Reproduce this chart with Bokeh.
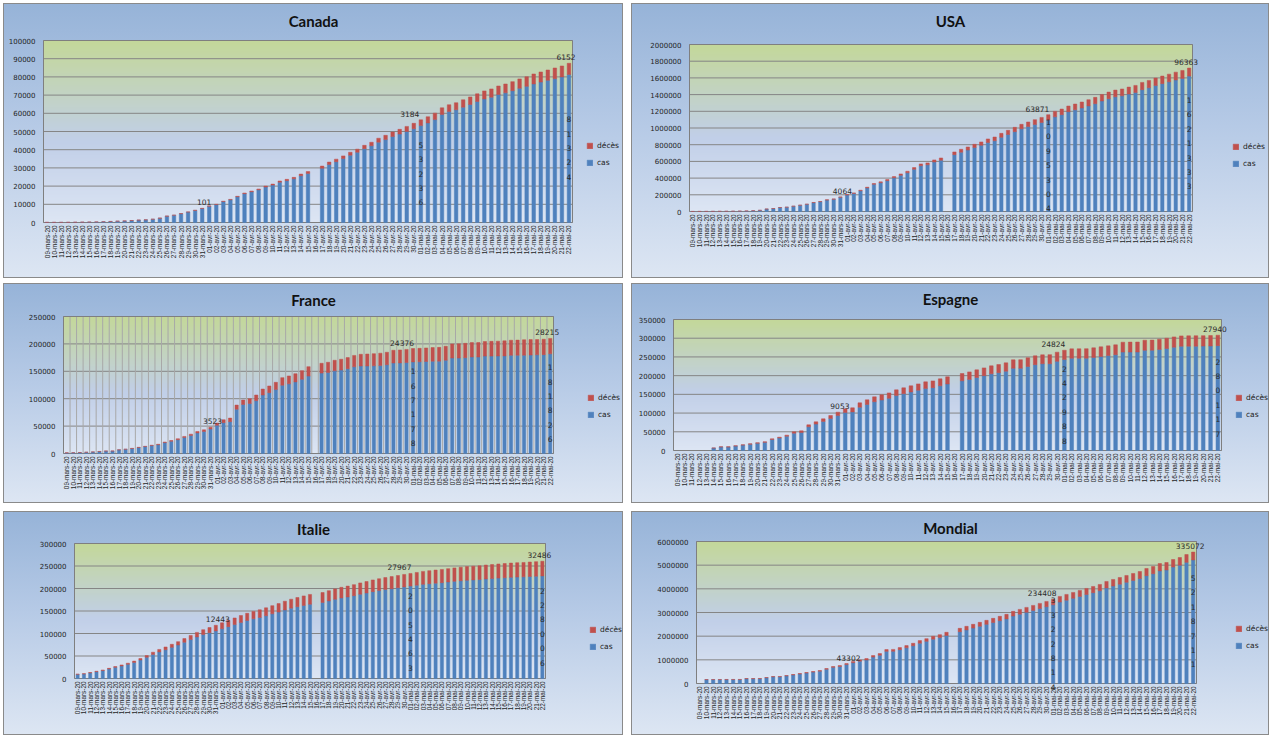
import math
import numpy as np
from bokeh.plotting import figure
from bokeh.models import (ColumnDataSource, Range1d, Legend, LegendItem, LabelSet, Label)
from bokeh.layouts import row, column
from bokeh.embed import file_html
from bokeh.resources import INLINE
from bokeh.core.properties import value

# ---------------- data ----------------
dates = ([f"{d:02d}-mars-20" for d in range(9, 32)] +
         [f"{d:02d}-avr-20" for d in range(1, 31)] +
         [f"{d:02d}-mai-20" for d in range(1, 23)])

canada_cas = [77, 79, 93, 103, 138, 193, 244, 313, 415, 569, 735, 873, 1087, 1328, 1470, 1800, 2400, 3500, 4000, 4850, 5750, 6650, 7700,
              8990, 9860, 11520, 12480, 14140, 15860, 16920, 17990, 19500, 20540, 22150, 22990, 24020, 25700, 26990,
              None,
              29800, 31890, 33400, 35130, 37010, 38610, 40590, 42180, 44160, 45550, 47230, 48580, 50030, 51500, 53236,
              54710, 56530, 59320, 60930, 61950, 63360, 64830, 66470, 67890, 68830, 70310, 71230, 72410, 73730, 74800, 76130, 77140, 78120, 79040, 79970, 81324]
canada_deces = [0, 0, 1, 1, 1, 1, 1, 1, 1, 5, 8, 9, 12, 13, 19, 24, 25, 30, 39, 54, 61, 64, 101,
                111, 136, 179, 218, 259, 339, 375, 407, 503, 557, 654, 714, 779, 899, 1010,
                None,
                1195, 1310, 1400, 1470, 1587, 1690, 1810, 1915, 2141, 2350, 2465, 2617, 2766, 2996, 3184,
                3391, 3566, 3682, 3766, 3854, 4043, 4167, 4232, 4408, 4569, 4691, 4871, 4993, 5169, 5300, 5472, 5562, 5679, 5857, 6028, 6152]

usa_cas = [600, 960, 1300, 1700, 2200, 2700, 3500, 4600, 6400, 9400, 14200,
           29660, 35570, 47450, 51290, 63050, 74790, 86420, 105970, 117530, 137020, 147430, 170940,
           197900, 216900, 247600, 282500, 325400, 344200, 369200, 403300, 433500, 463400, 505500, 548000, 558400, 592200, 612700,
           None,
           681000, 710400, 736000, 766100, 792300, 826500, 847000, 888600, 922200, 956100, 990500, 1017000, 1042500, 1066500, 1095304,
           1133300, 1159600, 1194400, 1217100, 1239100, 1264700, 1290500, 1323600, 1350400, 1373300, 1385000, 1405900, 1424100, 1458500, 1481300, 1508400, 1531300, 1552700, 1575200, 1593900, 1621333]
usa_deces = [22, 31, 38, 41, 48, 57, 68, 107, 150, 205, 260, 340, 426, 554, 706, 946, 1209, 1581, 2026, 2467, 2978, 3573, 4064,
             5100, 6100, 7400, 8500, 9600, 10800, 12800, 14700, 16500, 18600, 20500, 22000, 23600, 25800, 28300,
             None,
             32000, 34600, 37000, 38900, 40700, 42500, 45000, 47400, 49800, 51900, 53500, 55000, 57500, 60500, 63871,
             65700, 67400, 68600, 69900, 71900, 74300, 76500, 78400, 79600, 80700, 82300, 84100, 85900, 87500, 88700, 89600, 90700, 92300, 93800, 95100, 96363]

france_cas = [1126, 1412, 1784, 2281, 2876, 3661, 4469, 4499, 6633, 7652, 9043, 10871, 12612, 14459, 16018, 19856, 22304, 25233, 29155, 32964, 37575, 40174, 44550,
              51500, 56200, 58100, 80800, 89500, 91100, 96400, 106800, 111000, 116700, 124600, 127100, 130700, 135500, 141300,
              None,
              146700, 147800, 150800, 152300, 154700, 158200, 159700, 159700, 159900, 160400, 161900, 165100, 165300, 165900, 167178,
              167300, 167900, 168400, 168500, 170200, 174200, 174200, 174800, 176100, 176100, 177700, 177700, 177900, 178100, 179200, 179300, 179400, 179600, 180000, 180400, 181826]
france_deces = [25, 33, 48, 61, 79, 91, 127, 148, 175, 264, 372, 450, 562, 674, 860, 1100, 1331, 1696, 1995, 2314, 2606, 3024, 3523,
                4032, 5387, 6507, 7560, 8078, 8911, 10328, 10869, 12210, 13197, 13832, 14393, 14967, 15729, 17167,
                None,
                17920, 18681, 19323, 19718, 20265, 20796, 21340, 21856, 22245, 22614, 22856, 23293, 23660, 24087, 24376,
                24594, 24760, 24895, 25201, 25531, 25809, 25987, 26230, 26310, 26380, 26643, 26991, 27074, 27425, 27529, 27625, 28108, 28239, 28022, 28132, 28215]

espagne_cas = [None, None, None, None, None,
               6600, 9500, 9500, 11970, 14480, 16970, 19460, 21830, 29430, 33290, 38190, 46250, 48100, 63460, 70620, 77800, 85780, 93350,
               101300, 103100, 115600, 123000, 130300, 134900, 139400, 146800, 151600, 156400, 161000, 165900, 167900, 172900, 177700,
               None,
               186200, 190000, 195000, 199900, 204900, 208000, 212000, 219700, 219700, 224400, 229400, 231800, 231800, 238200, 242988,
               246500, 246500, 246600, 248700, 251100, 253500, 256000, 262900, 263000, 263100, 267800, 267900, 270100, 272500, 276000, 278600, 278700, 278800, 278900, 279200, 280117]
espagne_deces = [None, None, None, None, None,
                 196, 289, 342, 533, 623, 830, 1043, 1375, 1772, 2311, 2808, 3647, 4365, 5138, 5982, 6803, 7716, 9053,
                 10003, 10935, 11744, 12418, 13055, 13798, 14555, 15238, 15843, 16353, 16972, 17489, 18056, 18579, 19130,
                 None,
                 19478, 20043, 20453, 20852, 21282, 21717, 22157, 22524, 22902, 23190, 23521, 23822, 24275, 24543, 24824,
                 25100, 25264, 25428, 25613, 25857, 26070, 26299, 26478, 26621, 26744, 26920, 27104, 27321, 27459, 27563, 27650, 27709, 27778, 27888, 27904, 27940]

italie_cas = [9172, 10149, 12462, 15113, 17660, 21157, 24747, 27980, 31506, 35713, 41035, 47021, 53578, 59138, 63927, 69176, 74386, 80539, 86498, 92472, 97689, 101739, 105792,
              110574, 115242, 119827, 124632, 128948, 132547, 135586, 139422, 143626, 147577, 152271, 156363, 159516, 162488, 165155,
              None,
              168941, 172434, 175925, 178972, 181228, 183957, 187327, 189973, 192994, 195351, 197675, 199414, 201505, 203591, 205463,
              207428, 209328, 210717, 211938, 213013, 214457, 215858, 217185, 218268, 219070, 219814, 221216, 222104, 223096, 223885, 224760, 225435, 225886, 226699, 227364, 228006]
italie_deces = [463, 631, 827, 1016, 1266, 1441, 1809, 2158, 2503, 2978, 3405, 4032, 4825, 5476, 6077, 6820, 7503, 8165, 9134, 10023, 10779, 11591, 12443,
                13155, 13915, 14681, 15362, 15887, 16523, 17127, 17669, 18279, 18849, 19468, 19899, 20465, 21067, 21645,
                None,
                22170, 22745, 23227, 23660, 24114, 24648, 25085, 25549, 25969, 26384, 26644, 26977, 27359, 27682, 27967,
                28236, 28710, 28884, 29079, 29315, 29684, 29958, 30201, 30395, 30560, 30739, 30911, 31106, 31368, 31610, 31763, 31908, 32007, 32169, 32330, 32486]

mondial_cas = [None,
               164700, 165000, 165300, 165600, 166000, 166500, 202900, 203000, 203500, 243100, 283700, 284000, 322300, 362500, 402400, 441800, 482000, 520800, 601300, 682100, 719300, 799700,
               879800, 943800, 994200, 1115300, 1194600, 1358400, 1360000, 1428600, 1505300, 1596300, 1703500, 1781900, 1874400, 1938400, 2028700,
               None,
               2187000, 2263500, 2340500, 2419000, 2499000, 2576000, 2653500, 2730400, 2850800, 2929000, 3009300, 3089000, 3167300, 3244400, 3322814,
               3440300, 3519300, 3599700, 3681200, 3759800, 3837200, 3915400, 4036800, 4116500, 4197200, 4278100, 4356600, 4435600, 4557300, 4636400, 4758600, 4796800, 4919000, 4998000, 5119000, 5218711]
mondial_deces = [None,
                 4262, 4615, 4720, 5404, 5819, 6440, 7126, 7905, 8733, 9867, 11299, 12973, 14651, 16505, 18625, 21181, 23970, 27198, 30652, 33925, 38700, 43302,
                 47200, 53200, 58800, 64700, 69400, 74600, 81900, 88400, 95700, 102700, 108500, 114100, 119600, 126600, 134300,
                 None,
                 144000, 152500, 159500, 165000, 170000, 177000, 183500, 190600, 197200, 203000, 206700, 211000, 217700, 224600, 234408,
                 239700, 244700, 248300, 251800, 257200, 263800, 269600, 275200, 279500, 282800, 286900, 292400, 297400, 302700, 307600, 311400, 315200, 320000, 325000, 330000, 335072]

deces_label_dates = ["31-mars-20", "01-mai-20", "22-mai-20"]
cas_label_dates = ["01-mai-20", "22-mai-20"]

# ---------------- style ----------------
BLUE = "#4f81bd"
RED = "#c0504d"
CHART_BG = "linear-gradient(180deg, #96b3d8 0%, #b6cae6 45%, #dde6f3 100%)"
DECES_XOFF = [2, -11, -3]

# w,h: chart size; L,R,T,B: distance of the plot area from each chart edge (px)
panels = [
    dict(title="Canada", cas=canada_cas, deces=canada_deces, ymax=100000, step=10000,
         w=620, h=275, L=40, R=51, T=37, B=56, vgrid=False, leg=(14, 60), ty=17),
    dict(title="USA", cas=usa_cas, deces=usa_deces, ymax=2000000, step=200000,
         w=638, h=275, L=58, R=77, T=41, B=67, vgrid=False, leg=(40, 48), ty=17),
    dict(title="France", cas=france_cas, deces=france_deces, ymax=250000, step=50000,
         w=620, h=220, L=60, R=70, T=33, B=50, vgrid=True, leg=(34, 39), ty=16),
    dict(title="Espagne", cas=espagne_cas, deces=espagne_deces, ymax=350000, step=50000,
         w=638, h=220, L=42, R=48, T=36, B=53, vgrid=False, leg=(14, 36), ty=15),
    dict(title="Italie", cas=italie_cas, deces=italie_deces, ymax=300000, step=50000,
         w=620, h=224, L=71, R=78, T=32, B=57, vgrid=False, leg=(44, 32), ty=17),
    dict(title="Mondial", cas=mondial_cas, deces=mondial_deces, ymax=6000000, step=1000000,
         w=638, h=224, L=65, R=73, T=30, B=52, vgrid=False, leg=(39, 38), ty=16),
]


def gradient_image(n=256):
    t = np.linspace(0, 1, n)
    r = np.interp(t, [0, 0.45, 1], [221, 193, 196])
    g = np.interp(t, [0, 0.45, 1], [230, 207, 216])
    b = np.interp(t, [0, 0.45, 1], [244, 232, 154])
    img = np.zeros((n, 2), dtype=np.uint32)
    view = img.view(dtype=np.uint8).reshape((n, 2, 4))
    for k in range(2):
        view[:, k, 0] = r.astype(np.uint8)
        view[:, k, 1] = g.astype(np.uint8)
        view[:, k, 2] = b.astype(np.uint8)
        view[:, k, 3] = 255
    return img


def make_panel(cfg):
    n = len(dates)
    assert len(cfg["cas"]) == n and len(cfg["deces"]) == n, cfg["title"]
    w, h, L, R, T, B = cfg["w"], cfg["h"], cfg["L"], cfg["R"], cfg["T"], cfg["B"]
    ymax = cfg["ymax"]
    x = np.arange(n, dtype=float)
    cas = np.array([np.nan if v is None else v for v in cfg["cas"]], dtype=float)
    dec = np.array([np.nan if v is None else v for v in cfg["deces"]], dtype=float)
    mask = ~np.isnan(cas)
    src = ColumnDataSource(dict(x=x[mask], cas=cas[mask], deces=dec[mask]))

    # the frame is the whole chart; the plot area is mapped inside it
    slot = (w - L - R) / n                 # px per category
    ypp = ymax / (h - T - B)               # data units per px
    xs = -0.5 - L / slot
    xe = n - 0.5 + R / slot
    ys = -B * ypp
    ye = ymax + T * ypp

    p = figure(width=w, height=h, x_range=Range1d(xs, xe), y_range=Range1d(ys, ye),
               output_backend="svg", toolbar_location=None,
               x_axis_location=None, y_axis_location=None,
               min_border_left=0, min_border_right=0, min_border_top=0, min_border_bottom=0)
    p.border_fill_color = None
    p.background_fill_color = None
    p.outline_line_color = None
    p.styles = {"background": CHART_BG, "outline": "1px solid #8a8a8a", "outline-offset": "-1px"}
    p.grid.visible = False

    # plot area: gradient, grid lines, border
    p.image_rgba(image=[gradient_image()], x=-0.5, y=0, dw=n, dh=ymax, level="image")
    yt = list(range(0, ymax + 1, cfg["step"]))
    p.segment(x0=[-0.5] * len(yt), x1=[n - 0.5] * len(yt), y0=yt, y1=yt,
              line_color="#858585", line_width=1, level="underlay")
    if cfg["vgrid"]:
        gx = [i + 0.5 for i in range(n - 1)]
        p.segment(x0=gx, x1=gx, y0=[0] * len(gx), y1=[ymax] * len(gx),
                  line_color="#a8a8a8", line_width=1, level="underlay")
    p.quad(left=-0.5, right=n - 0.5, bottom=0, top=ymax, fill_color=None,
           line_color="#7f7f7f", line_width=1, level="underlay")

    # axis tick labels (through the scales)
    ysrc = ColumnDataSource(dict(x=[-0.5] * len(yt), y=yt, text=[str(v) for v in yt]))
    p.text(x="x", y="y", text="text", source=ysrc, x_offset=-8, text_align="right",
           text_baseline="middle", text_font=value("DejaVu Sans"), text_font_size="7px",
           text_color="#1f1f1f")
    xsrc = ColumnDataSource(dict(x=x, y=[0] * n, text=dates))
    p.text(x="x", y="y", text="text", source=xsrc, y_offset=3, angle=math.pi / 2,
           text_align="right", text_baseline="middle", text_font=value("Liberation Sans"),
           text_font_size="6.4px", text_color="#1f1f1f")

    rs = p.vbar_stack(["cas", "deces"], x="x", width=0.5, source=src,
                      fill_color=[BLUE, RED], line_color=[BLUE, RED], line_width=0.5)

    # death labels above the bars
    li = [dates.index(d) for d in deces_label_dates]
    dsrc = ColumnDataSource(dict(x=[float(i) for i in li],
                                 y=[cas[i] + dec[i] for i in li],
                                 text=[str(int(dec[i])) for i in li],
                                 xo=DECES_XOFF))
    p.add_layout(LabelSet(x="x", y="y", text="text", x_offset="xo", y_offset=3, source=dsrc,
                          text_align="center", text_baseline="bottom",
                          text_font=value("DejaVu Sans"), text_font_size="7.5px",
                          text_color="#2b2b2b"))

    # case labels, one digit per line, centred in the blue segment
    ci = [dates.index(d) for d in cas_label_dates]
    csrc = ColumnDataSource(dict(x=[float(i) for i in ci],
                                 y=[cas[i] / 2 for i in ci],
                                 text=["\n".join(str(int(cas[i]))) for i in ci]))
    p.text(x="x", y="y", text="text", source=csrc, text_align="center", text_baseline="middle",
           text_line_height=1.6,
           text_font=value("DejaVu Sans"), text_font_size="7.5px", text_color="#2b2b2b")

    # title, centred over the whole chart
    p.add_layout(Label(x=xs + (w / 2) / slot, y=ye - cfg["ty"] * ypp,
                       text=cfg["title"], text_align="center", text_baseline="middle",
                       text_font="Lato", text_font_style="bold",
                       text_font_size="15px", text_color="#111111"))

    # legend to the right of the plot area
    leg = Legend(items=[LegendItem(label="décès", renderers=[rs[1]]),
                        LegendItem(label="cas", renderers=[rs[0]])],
                 location=((w - R) + cfg["leg"][0], B + cfg["leg"][1] - 4.5))
    leg.padding = 0
    leg.margin = 0
    leg.border_line_color = None
    leg.background_fill_alpha = 0
    leg.glyph_width = 7
    leg.glyph_height = 7
    leg.label_height = 9
    leg.label_standoff = 4
    leg.spacing = 8
    leg.label_text_font = "DejaVu Sans"
    leg.label_text_font_size = "7.5px"
    leg.label_text_color = "#222222"
    p.add_layout(leg)
    return p


figs = [make_panel(c) for c in panels]
top = column(row(figs[0], figs[1], spacing=8), row(figs[2], figs[3], spacing=8), spacing=5)
layout = column(top, row(figs[4], figs[5], spacing=8), spacing=8, margin=(3, 0, 0, 3))

open("out.html", "w").write(file_html(layout, INLINE, title="COVID-19"))
